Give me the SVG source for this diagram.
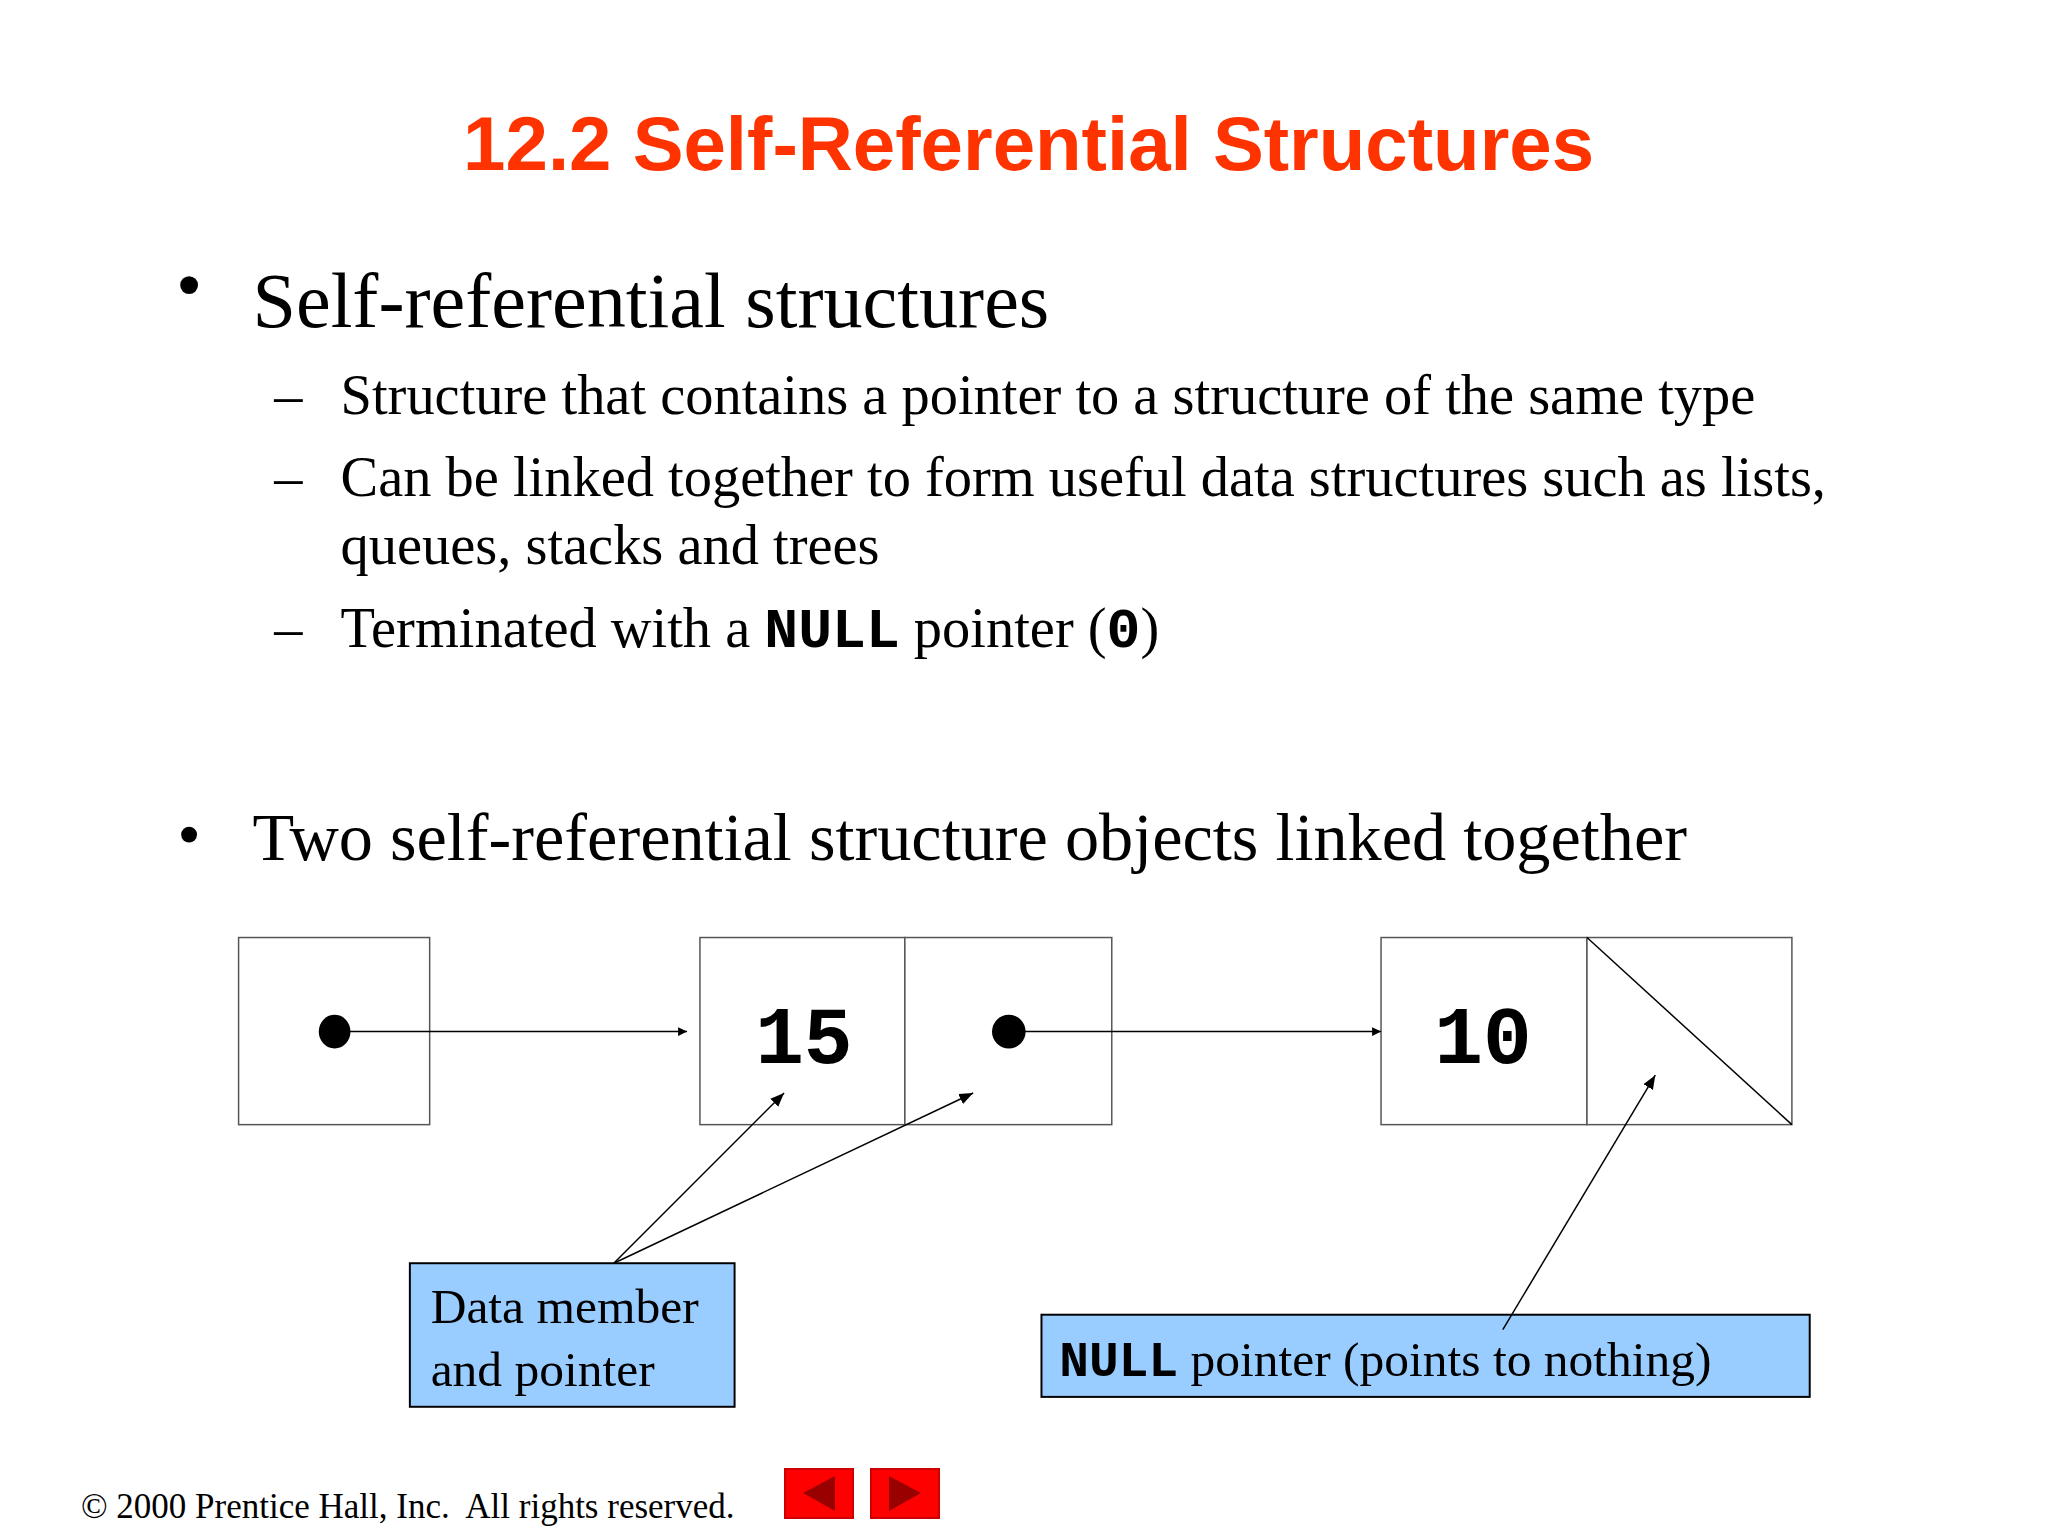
<svg xmlns="http://www.w3.org/2000/svg" width="2048" height="1536" viewBox="0 0 2048 1536">
<defs>
<style>
.t{font-family:"Liberation Serif",serif;fill:#000}
.m{font-family:"Liberation Mono",monospace;font-weight:bold;fill:#000}
.box{fill:#fff;stroke:#555;stroke-width:1.5}
.cl{fill:#99CCFF;stroke:#000;stroke-width:2}
.ln{stroke:#000;stroke-width:1.5;fill:none}
</style>
<marker id="ah" viewBox="0 0 10 10" refX="10" refY="5" markerWidth="9" markerHeight="9" markerUnits="userSpaceOnUse" orient="auto"><path d="M0,0L10,5L0,10z" fill="#000"/></marker>
<marker id="ah2" viewBox="0 0 10 10" refX="10" refY="5" markerWidth="14" markerHeight="14" markerUnits="userSpaceOnUse" orient="auto"><path d="M0,1L10,5L0,9z" fill="#000"/></marker>
</defs>
<rect width="2048" height="1536" fill="#fff"/>
<g transform="scale(0.99)">
<text x="1039" y="172" text-anchor="middle" font-family="Liberation Sans,sans-serif" font-weight="bold" font-size="77" fill="#FF3300">12.2 Self-Referential Structures</text>
<g id="text">
<circle cx="191" cy="288" r="9" fill="#000"/>
<text class="t" x="255" y="330" font-size="79">Self-referential structures</text>
<text class="t" x="277" y="418" font-size="57">–</text>
<text class="t" x="344" y="418" font-size="57">Structure that contains a pointer to a structure of the same type</text>
<text class="t" x="277" y="501" font-size="57">–</text>
<text class="t" x="344" y="501" font-size="57">Can be linked together to form useful data structures such as lists,</text>
<text class="t" x="344" y="570" font-size="57">queues, stacks and trees</text>
<text class="t" x="277" y="654" font-size="57">–</text>
<text class="t" x="344" y="654" font-size="57">Terminated with a <tspan class="m">NULL</tspan> pointer (<tspan class="m">0</tspan>)</text>
<circle cx="191" cy="843" r="8" fill="#000"/>
<text class="t" x="255" y="869" font-size="69">Two self-referential structure objects linked together</text>
</g>
<g id="node1"><rect class="box" x="241" y="947" width="193" height="189"/><ellipse cx="338" cy="1042" rx="16" ry="17"/></g>
<g id="node2"><rect class="box" x="707" y="947" width="207" height="189"/><rect class="box" x="914" y="947" width="209" height="189"/>
<text class="m" x="812" y="1074" font-size="82" text-anchor="middle">15</text><ellipse cx="1019" cy="1042" rx="17" ry="17"/></g>
<g id="node3"><rect class="box" x="1395" y="947" width="208" height="189"/><rect class="box" x="1603" y="947" width="207" height="189"/>
<line class="ln" x1="1603" y1="947" x2="1810" y2="1136"/>
<text class="m" x="1498" y="1074" font-size="82" text-anchor="middle">10</text></g>
<g id="callout1"><rect class="cl" x="414" y="1276" width="328" height="145"/>
<text class="t" x="435" y="1336" font-size="50">Data member</text><text class="t" x="435" y="1400" font-size="50">and pointer</text></g>
<g id="callout2"><rect class="cl" x="1052" y="1328" width="776" height="83"/>
<text class="t" x="1070" y="1390" font-size="50"><tspan class="m">NULL</tspan> pointer (points to nothing)</text></g>
<g id="connectors">
<line class="ln" x1="338" y1="1042" x2="694" y2="1042" marker-end="url(#ah)"/>
<line class="ln" x1="1019" y1="1042" x2="1395" y2="1042" marker-end="url(#ah)"/>
<line class="ln" x1="620" y1="1276" x2="792" y2="1104" marker-end="url(#ah2)"/>
<line class="ln" x1="620" y1="1276" x2="983" y2="1104" marker-end="url(#ah2)"/>
<line class="ln" x1="1518" y1="1343" x2="1672" y2="1086" marker-end="url(#ah2)"/>
</g>
</g>
<text class="t" x="81" y="1518" font-size="35" xml:space="preserve">© 2000 Prentice Hall, Inc.  All rights reserved.</text>
<g id="nav">
<rect x="785" y="1469" width="68" height="49" fill="#FF0000" stroke="#CC0000" stroke-width="2"/>
<path d="M803,1493L835,1476L835,1511z" fill="#990000"/>
<rect x="871" y="1469" width="68" height="49" fill="#FF0000" stroke="#CC0000" stroke-width="2"/>
<path d="M921,1493L889,1476L889,1511z" fill="#990000"/>
</g>
</svg>
